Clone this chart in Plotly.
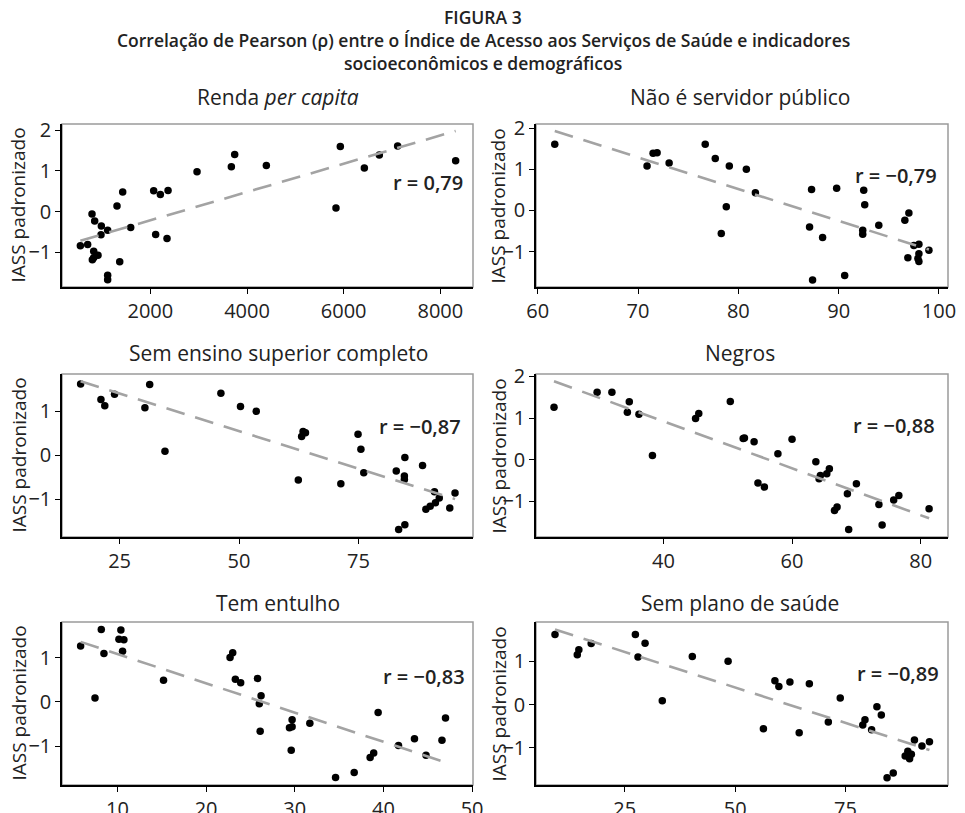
import numpy as np
import plotly.graph_objects as go

# ---------------- data ----------------
panel_titles = ["Renda <i>per capita</i>", "Não é servidor público",
                "Sem ensino superior completo", "Negros",
                "Tem entulho", "Sem plano de saúde"]
r_labels = ["r = 0,79", "r = −0,79", "r = −0,87", "r = −0,88", "r = −0,83", "r = −0,89"]

renda_x = [552, 703, 793, 848, 828, 800, 828, 917, 986, 979, 1117, 1117, 1117, 1310, 1366, 1428,
           1593, 2069, 2207, 2366, 2110, 2345, 2966, 3676, 3745, 4400, 5841, 5931, 6428, 6738, 7117, 8317]
renda_y = [-0.84, -0.81, -0.06, -0.23, -0.97, -1.18, -1.13, -1.07, -0.35, -0.57, -0.46, -1.56, -1.67, 0.14,
           -1.23, 0.48, -0.39, 0.51, 0.42, 0.52, -0.56, -0.66, 0.98, 1.10, 1.40, 1.13, 0.09, 1.60, 1.07, 1.39, 1.61, 1.25]

servidor_x = [61.7, 70.9, 71.5, 71.9, 73.1, 76.7, 77.7, 79.1, 78.3, 78.8, 80.8, 81.7, 87.1, 87.3, 87.4, 88.4,
              89.8, 90.6, 92.5, 92.4, 92.4, 92.6, 94.0, 96.6, 97.0, 96.9, 97.5, 98.0, 98.0, 97.9, 98.0, 99.0]
servidor_y = [1.61, 1.08, 1.39, 1.40, 1.15, 1.61, 1.26, 1.08, -0.56, 0.09, 1.00, 0.43, -0.40, 0.51, -1.69, -0.66,
              0.54, -1.58, 0.49, -0.48, -0.58, 0.14, -0.36, -0.24, -0.06, -1.15, -0.85, -0.82, -1.05, -1.17, -1.24, -0.97]

ensino_x = [16.85, 21.1, 21.9, 23.95, 30.3, 31.3, 34.5, 46.2, 50.3, 53.6, 62.4, 63.1, 63.4, 63.9, 71.3, 74.9,
            75.5, 76.1, 82.9, 83.4, 84.7, 84.6, 84.6, 84.7, 88.4, 89.1, 90.0, 90.9, 91.1, 91.9, 94.1, 95.2]
ensino_y = [1.62, 1.27, 1.13, 1.39, 1.08, 1.61, 0.09, 1.41, 1.11, 1.00, -0.56, 0.43, 0.54, 0.51, -0.65, 0.48,
            0.14, -0.40, -0.36, -1.69, -0.05, -0.47, -0.55, -1.58, -0.23, -1.23, -1.16, -0.83, -1.08, -0.97, -1.20, -0.86]

negros_x = [23.0, 29.7, 32.0, 34.7, 34.4, 36.2, 38.3, 45.0, 45.5, 50.4, 52.6, 52.4, 54.1, 54.7, 55.7, 57.8,
            60.0, 63.7, 64.2, 64.4, 65.4, 65.8, 66.6, 67.0, 68.6, 68.8, 70.0, 73.5, 74.0, 75.8, 76.6, 81.3]
negros_y = [1.26, 1.62, 1.62, 1.39, 1.14, 1.09, 0.10, 0.99, 1.11, 1.40, 0.52, 0.51, 0.43, -0.56, -0.66, 0.14,
            0.49, -0.05, -0.46, -0.38, -0.34, -0.22, -1.22, -1.14, -0.82, -1.68, -0.58, -1.08, -1.57, -0.97, -0.86, -1.18]

entulho_x = [5.85, 7.47, 8.18, 8.48, 10.39, 10.17, 10.73, 10.58, 15.2, 22.7, 23.0, 23.3, 23.9, 25.8, 26.0, 26.2,
             26.1, 29.4, 29.7, 29.7, 29.6, 31.7, 34.6, 36.7, 38.5, 38.9, 39.4, 41.7, 43.5, 44.8, 46.6, 47.0]
entulho_y = [1.26, 0.09, 1.63, 1.09, 1.62, 1.41, 1.40, 1.14, 0.49, 1.00, 1.11, 0.51, 0.43, 0.53, -0.04, 0.14,
             -0.66, -0.58, -0.56, -0.40, -1.09, -0.48, -1.70, -1.59, -1.25, -1.15, -0.24, -0.98, -0.83, -1.20, -0.86, -0.36]

plano_x = [9.2, 14.25, 14.6, 17.4, 27.4, 28.0, 29.6, 33.5, 40.3, 48.4, 56.4, 59.0, 59.9, 62.4, 64.5, 66.8,
           71.1, 73.8, 78.9, 79.4, 80.9, 82.1, 83.1, 84.4, 85.8, 88.5, 89.1, 89.5, 89.9, 90.6, 92.3, 94.0]
plano_y = [1.62, 1.15, 1.27, 1.41, 1.62, 1.10, 1.42, 0.09, 1.11, 1.00, -0.56, 0.55, 0.42, 0.52, -0.65, 0.48,
           -0.40, 0.15, -0.47, -0.35, -0.58, -0.05, -0.24, -1.69, -1.58, -1.19, -1.08, -1.25, -1.15, -0.82, -0.96, -0.86]

x_ticks = [[2000, 4000, 6000, 8000], [60, 70, 80, 90, 100], [25, 50, 75],
           [40, 60, 80], [10, 20, 30, 40, 50], [25, 50, 75]]
y_ticks = [-1, 0, 1, 2]

# ---------------- layout geometry ----------------
# the page body has an 8px margin, so the figure is drawn 8px in from the window edge
OFF = 8
W, H = 965 - OFF, 813 - OFF
series = [(renda_x, renda_y), (servidor_x, servidor_y), (ensino_x, ensino_y),
          (negros_x, negros_y), (entulho_x, entulho_y), (plano_x, plano_y)]
x_ranges = [[172, 8676], [59.83, 100.9], [12.95, 98.96], [20.2, 84.24], [3.75, 50.1], [4.9, 98.2]]
y_ranges = [[-1.85, 2.15], [-1.86, 2.1], [-1.86, 1.85], [-1.86, 2.06], [-1.87, 1.80], [-1.86, 1.91]]

col_px = [(62, 473), (536, 948)]
row_px = [(124, 287), (374, 537), (622, 785)]
title_y_px = [97, 353, 603]
title_x_px = [278, 740]
ylab_x_px = [18, 498]
r_pos_px = [(465, 183), (939, 175), (463, 427), (937, 425), (467, 676), (941, 673)]


def px(x):
    return (x - OFF) / W


def py(y):
    return 1 - (y - OFF) / H


FONT = "Open Sans"
fig = go.Figure()
annotations = []
shapes = []
layout_axes = {}

for i, (xs, ys) in enumerate(series):
    row, col = divmod(i, 2)
    k = "" if i == 0 else str(i + 1)
    xa, ya = "x" + k, "y" + k
    fig.add_trace(go.Scatter(x=xs, y=ys, mode="markers", xaxis=xa, yaxis=ya,
                             marker=dict(color="black", size=7.5), showlegend=False,
                             hoverinfo="x+y"))
    slope, icpt = np.polyfit(np.array(xs, float), np.array(ys, float), 1)
    lx = np.array([min(xs), max(xs)], float)
    fig.add_trace(go.Scatter(x=lx, y=slope * lx + icpt, mode="lines", xaxis=xa, yaxis=ya,
                             line=dict(color="#a3a3a3", width=2.6, dash="19px,11px"),
                             showlegend=False, hoverinfo="skip"))
    x0, x1 = col_px[col]
    y0, y1 = row_px[row]
    layout_axes["xaxis" + k] = dict(
        domain=[px(x0), px(x1)], range=x_ranges[i], anchor=ya, automargin=False,
        tickvals=x_ticks[i], showgrid=False, zeroline=False,
        showline=True, linecolor="black", linewidth=1.5,
        ticks="outside", ticklen=5, tickwidth=1.2, tickcolor="black",
        tickfont=dict(family=FONT, size=20, color="#222"))
    layout_axes["yaxis" + k] = dict(
        domain=[py(y1), py(y0)], range=y_ranges[i], anchor=xa, automargin=False,
        tickvals=y_ticks, showgrid=False, zeroline=False,
        showline=True, linecolor="black", linewidth=1.5,
        ticks="outside", ticklen=5, tickwidth=1.2, tickcolor="black",
        tickfont=dict(family=FONT, size=20, color="#222"))
    shapes.append(dict(type="rect", xref=xa + " domain", yref=ya + " domain",
                       x0=0, x1=1, y0=0, y1=1, layer="below",
                       line=dict(color="#9a9a9a", width=1.5)))
    annotations.append(dict(text=panel_titles[i], x=px(title_x_px[col]), y=py(title_y_px[row]),
                            xref="paper", yref="paper", showarrow=False,
                            xanchor="center", yanchor="middle",
                            font=dict(family=FONT, size=21, color="#222")))
    annotations.append(dict(text="IASS padronizado", x=px(ylab_x_px[col]),
                            y=py((y0 + y1) / 2), xref="paper", yref="paper",
                            showarrow=False, textangle=-90, xanchor="center", yanchor="middle",
                            font=dict(family=FONT, size=19, color="#222")))
    rx, ry = r_pos_px[i]
    annotations.append(dict(text=r_labels[i], x=px(rx), y=py(ry), xref="paper", yref="paper",
                            showarrow=False, xanchor="right", yanchor="middle",
                            font=dict(family=FONT, size=20, color="#222", weight=600)))

title_lines = [("FIGURA 3", 17),
               ("Correlação de Pearson (ρ) entre o Índice de Acesso aos Serviços de Saúde e indicadores", 40),
               ("socioeconômicos e demográficos", 63)]
for txt, ypx in title_lines:
    annotations.append(dict(text=txt, x=px(483), y=py(ypx), xref="paper", yref="paper",
                            showarrow=False, xanchor="center", yanchor="middle",
                            font=dict(family=FONT, size=17.5, color="#222", weight=600)))

fig.update_layout(width=W, height=H, margin=dict(l=0, r=0, t=0, b=0, autoexpand=False),
                  paper_bgcolor="white", plot_bgcolor="white",
                  annotations=annotations, shapes=shapes, **layout_axes)
fig.write_html("out.html")
